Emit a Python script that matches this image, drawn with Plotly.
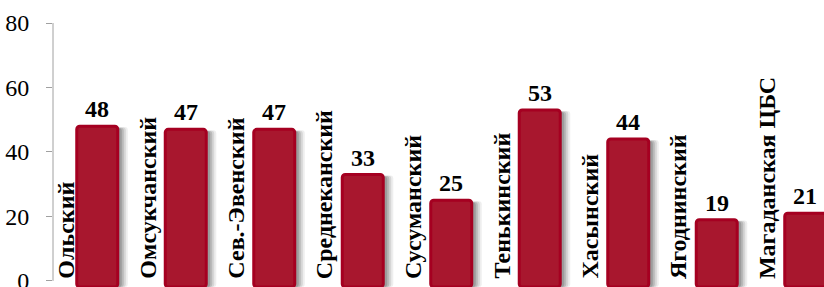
import plotly.graph_objects as go

categories = ["Ольский", "Омсукчанский", "Сев.-Эвенский", "Среднеканский", "Сусуманский",
              "Тенькинский", "Хасынский", "Ягоднинский", "Магаданская ЦБС"]
values = [48, 47, 47, 33, 25, 53, 44, 19, 21]
y_ticks = [0, 20, 40, 60, 80]

W, H = 824, 287
ML, MR, MT, MB = 53, 0, 23, 0
x_range = [-0.5, 8.212]
y_range = [-1.9, 80]
px_per_cat = (W - ML - MR) / (x_range[1] - x_range[0])
bar_w = 41 / px_per_cat
SERIF = "Liberation Serif, Times New Roman, Times, serif"

xs = list(range(len(categories)))
fig = go.Figure()

# soft shadow layers (offset right, slightly lower)
for dx, drop, alpha in [(10, 0.3, 0.08), (8, 0.4, 0.12), (6, 0.5, 0.16), (4, 0.6, 0.20)]:
    fig.add_trace(go.Bar(
        x=xs, y=[v + 1.9 - drop for v in values], base=-1.9,
        width=bar_w, offset=-bar_w / 2 + dx / px_per_cat,
        marker=dict(color=f"rgba(40,40,40,{alpha})", line=dict(width=0), cornerradius=3),
        hoverinfo="skip", showlegend=False,
    ))

fig.add_trace(go.Bar(
    x=xs, y=[v + 1.9 for v in values], base=-1.9,
    width=bar_w,
    marker=dict(color="#A8172E", line=dict(color="#A50021", width=3), cornerradius=3),
    hoverinfo="skip", showlegend=False,
))

annotations = []
for i, (c, v) in enumerate(zip(categories, values)):
    annotations.append(dict(
        x=i, y=v, xref="x", yref="y", text=f"<b>{v}</b>", showarrow=False,
        xanchor="center", yanchor="bottom", yshift=2,
        font=dict(family=SERIF, size=24, color="black"),
    ))
    annotations.append(dict(
        x=i, y=0, xref="x", yref="y", text=f"<b>{c}</b>", showarrow=False,
        textangle=-90, xanchor="center", yanchor="bottom", yshift=0,
        xshift=-31 if i == 0 else -38,
        font=dict(family=SERIF, size=24, color="black"),
    ))

fig.update_layout(
    width=W, height=H,
    margin=dict(l=ML, r=MR, t=MT, b=MB, pad=0, autoexpand=False),
    paper_bgcolor="white", plot_bgcolor="white",
    barmode="overlay",
    font=dict(family=SERIF),
    annotations=annotations,
    shapes=[dict(type="line", xref="paper", yref="y", x0=0, x1=0, y0=0, y1=80,
                 line=dict(color="#A0A0A0", width=1))],
    xaxis=dict(range=x_range, showticklabels=False, showgrid=False, zeroline=False,
               showline=False, ticks="", automargin=False),
    yaxis=dict(range=y_range, tickvals=y_ticks, showgrid=False, zeroline=False,
               showline=False, ticks="outside", ticklen=6, tickcolor="#A0A0A0",
               ticklabelstandoff=12, automargin=False, ticklabeloverflow="allow",
               tickfont=dict(family=SERIF, size=24, color="black")),
)

fig.write_html("out.html", config={"displayModeBar": False},
               post_script="document.body.style.margin='0';document.body.style.overflow='hidden';")
